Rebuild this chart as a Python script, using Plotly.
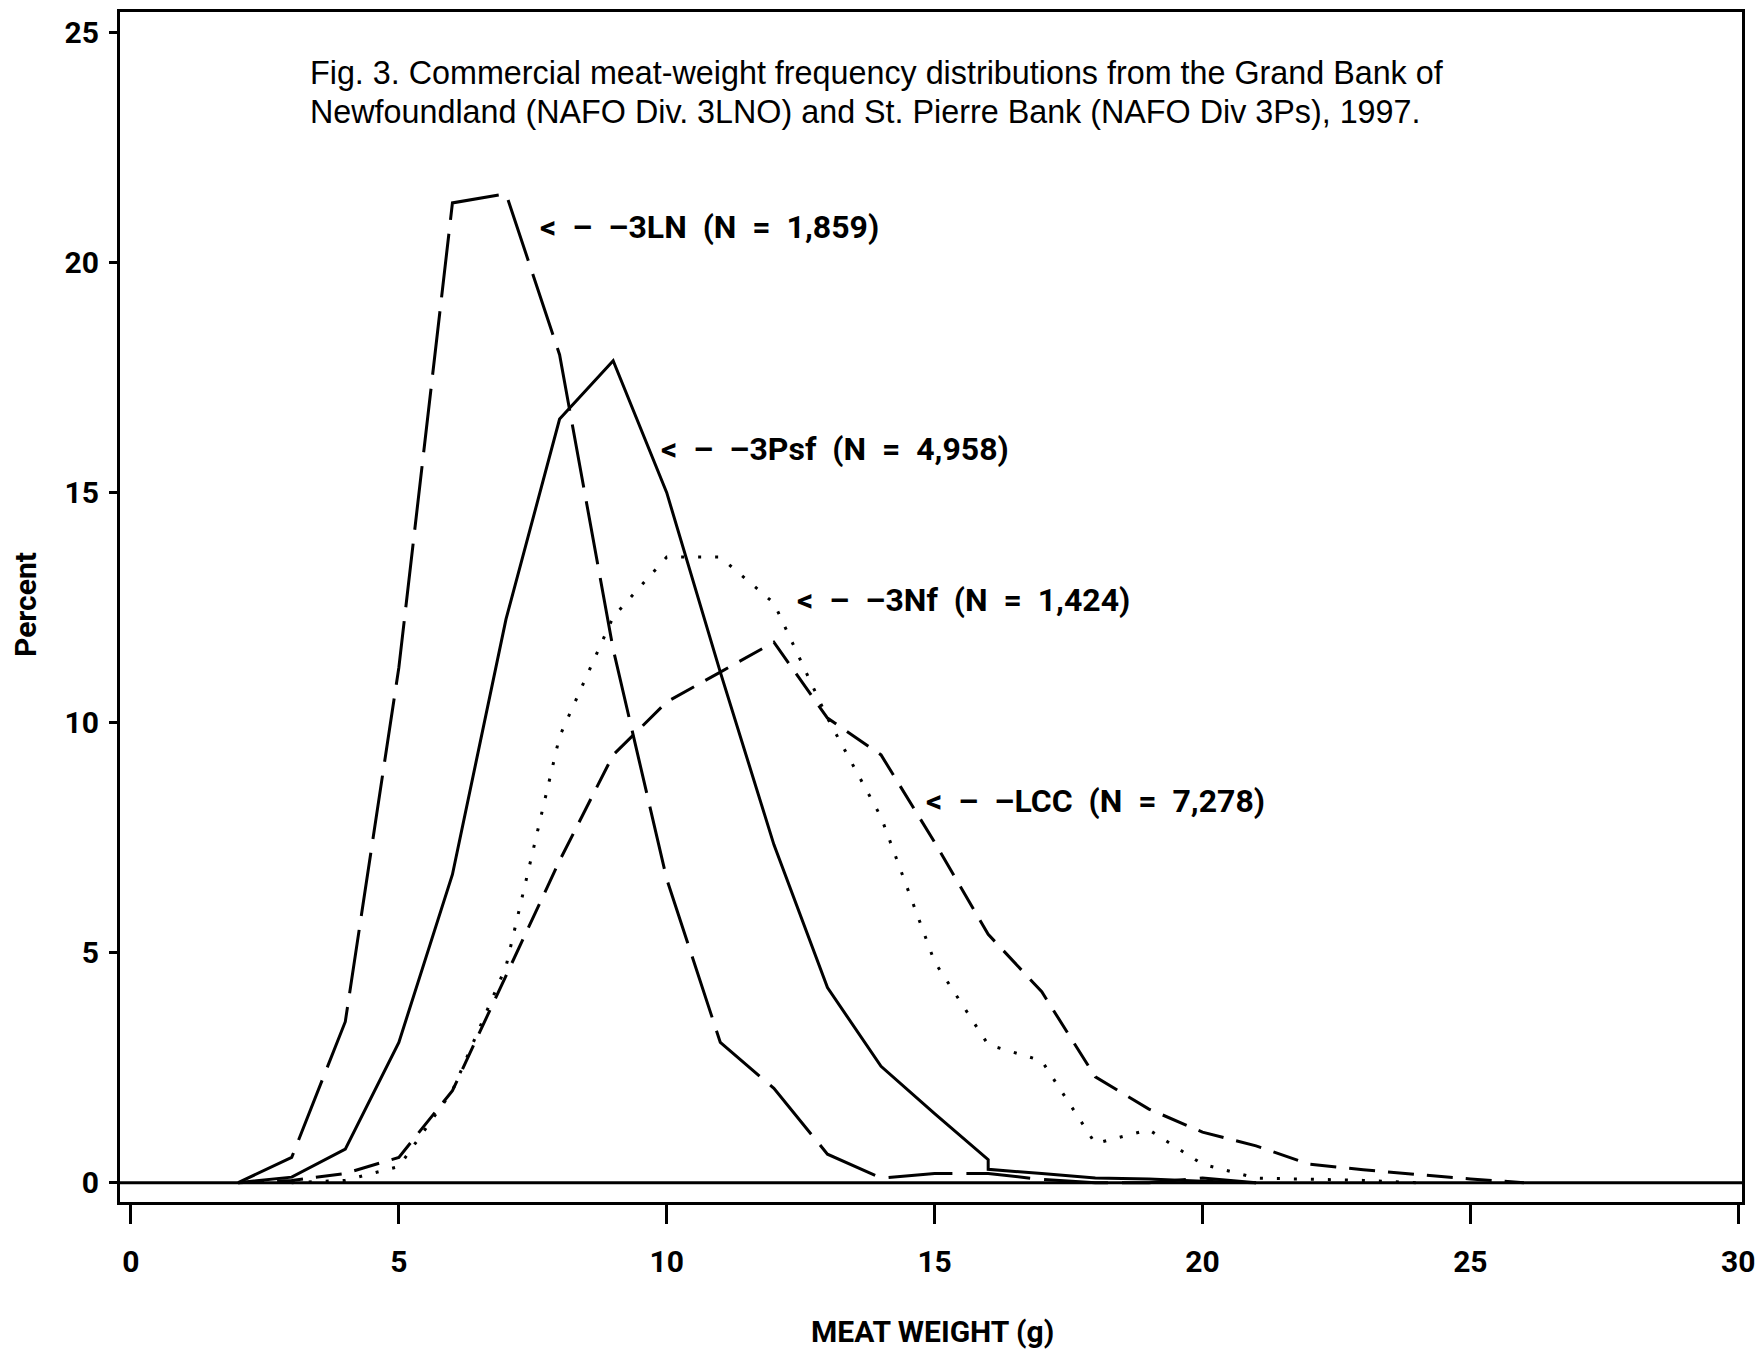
import plotly.graph_objects as go

# ---- data ----
x_3ln = [2, 3, 4, 5, 6, 7, 8, 9, 10, 11, 12, 13, 14, 15, 16, 17, 18, 19, 20, 21]
y_3ln = [0, 0.55, 3.5, 11.2, 21.3, 21.5, 18.0, 11.6, 6.6, 3.05, 2.05, 0.62, 0.1, 0.2, 0.2, 0.07, 0, 0, 0.1, 0]

x_3psf = [2, 3, 4, 5, 6, 7, 8, 9, 10, 11, 12, 13, 14, 15, 16, 16, 17, 18, 19, 20, 21]
y_3psf = [0, 0.12, 0.73, 3.05, 6.7, 12.25, 16.6, 17.87, 15.0, 11.1, 7.35, 4.24, 2.53, 1.5, 0.5, 0.29, 0.2, 0.1, 0.08, 0.03, 0]

x_3nf = [3, 4, 5, 6, 7, 8, 9, 10, 11, 12, 13, 14, 15, 16, 17, 18, 19, 20, 21, 22, 23, 24]
y_3nf = [0, 0.05, 0.35, 2.0, 4.7, 9.7, 12.3, 13.6, 13.6, 12.6, 10.1, 7.95, 4.8, 3.0, 2.65, 0.85, 1.15, 0.4, 0.1, 0.08, 0.05, 0]

x_lcc = [2, 3, 4, 5, 6, 7, 8, 9, 10, 11, 12, 13, 14, 15, 16, 17, 18, 19, 20, 21, 22, 23, 24, 25, 26]
y_lcc = [0, 0.05, 0.2, 0.55, 2.0, 4.5, 7.0, 9.3, 10.45, 11.1, 11.75, 10.1, 9.3, 7.4, 5.4, 4.15, 2.3, 1.6, 1.1, 0.8, 0.4, 0.28, 0.18, 0.08, 0]

x_ticks = [0, 5, 10, 15, 20, 25, 30]
y_ticks = [0, 5, 10, 15, 20, 25]

labels = ["3LN", "3Psf", "3Nf", "LCC"]
label_n = ["1,859", "4,958", "1,424", "7,278"]
label_x = [7.6, 9.85, 12.4, 14.8]
label_y = [20.78, 15.95, 12.66, 8.3]

title_lines = [
    "Fig. 3. Commercial meat-weight frequency distributions from the Grand Bank of",
    "Newfoundland (NAFO Div. 3LNO) and St. Pierre Bank (NAFO Div 3Ps), 1997.",
]

# ---- figure ----
W, H = 1756, 1350
L, R, T, B = 120, 1742, 12, 1202

def px_x(px):
    return (px - L) / (R - L)

def px_y(py):
    return (B - py) / (B - T)

COND = "Roboto, Liberation Sans, sans-serif"
REG = "Liberation Sans, Arial, sans-serif"

fig = go.Figure()
series = [
    (x_3ln, y_3ln, "64px,14px"),
    (x_3psf, y_3psf, "solid"),
    (x_3nf, y_3nf, "3px,14px"),
    (x_lcc, y_lcc, "26px,13px"),
]
for xs, ys, dash in series:
    fig.add_trace(go.Scatter(x=xs, y=ys, mode="lines",
                             line=dict(color="black", width=3, dash=dash),
                             showlegend=False, hoverinfo="skip"))

# zero reference line
fig.add_shape(type="line", xref="paper", yref="y", x0=0, x1=1, y0=0, y1=0,
              line=dict(color="black", width=3))

nb = "\u00a0"
for lab, n, lx, ly in zip(labels, label_n, label_x, label_y):
    txt = f"<b>&lt;{nb}{nb}–{nb}{nb}–{lab}{nb}{nb}(N{nb}{nb}={nb}{nb}{n})</b>"
    fig.add_annotation(x=lx, y=ly, xref="x", yref="y", text=txt, showarrow=False,
                       xanchor="left", yanchor="middle",
                       font=dict(family=COND, size=32, color="black"))

for i, line in enumerate(title_lines):
    fig.add_annotation(x=px_x(308), y=px_y(73 + 39 * i), xref="paper", yref="paper",
                       text=line, showarrow=False, xanchor="left", yanchor="middle",
                       font=dict(family=REG, size=32.3, color="black"))

fig.add_annotation(x=px_x(25), y=px_y(605), xref="paper", yref="paper",
                   text="<b>Percent</b>", showarrow=False, textangle=-90,
                   xanchor="center", yanchor="middle",
                   font=dict(family=COND, size=30, color="black"))
fig.add_annotation(x=px_x(932), y=px_y(1331), xref="paper", yref="paper",
                   text="<b>MEAT WEIGHT (g)</b>", showarrow=False,
                   xanchor="center", yanchor="middle",
                   font=dict(family=COND, size=30, color="black"))

fig.update_layout(
    template="none",
    width=W, height=H,
    margin=dict(l=L, r=W - R, t=T, b=H - B, pad=0, autoexpand=False),
    paper_bgcolor="white", plot_bgcolor="white",
    xaxis=dict(range=[-0.205, 30.07], tickvals=x_ticks,
               ticktext=[f"<b>{v}</b>" for v in x_ticks],
               ticks="outside", ticklen=19, tickwidth=3, tickcolor="black",
               showline=True, mirror=True, linewidth=3, linecolor="black",
               showgrid=False, zeroline=False, ticklabelstandoff=12,
               automargin=False, ticklabeloverflow="allow",
               tickfont=dict(family=COND, size=30, color="black")),
    yaxis=dict(range=[-0.42, 25.45], tickvals=y_ticks,
               ticktext=[f"<b>{v}</b>" for v in y_ticks],
               ticks="outside", ticklen=8, tickwidth=3, tickcolor="black",
               showline=True, mirror=True, linewidth=3, linecolor="black",
               showgrid=False, zeroline=False, ticklabelstandoff=4,
               automargin=False, ticklabeloverflow="allow",
               tickfont=dict(family=COND, size=30, color="black")),
)

fig.write_html("out.html", config={"displayModeBar": False},
               post_script="document.body.style.margin='0';document.body.style.overflow='hidden';")
